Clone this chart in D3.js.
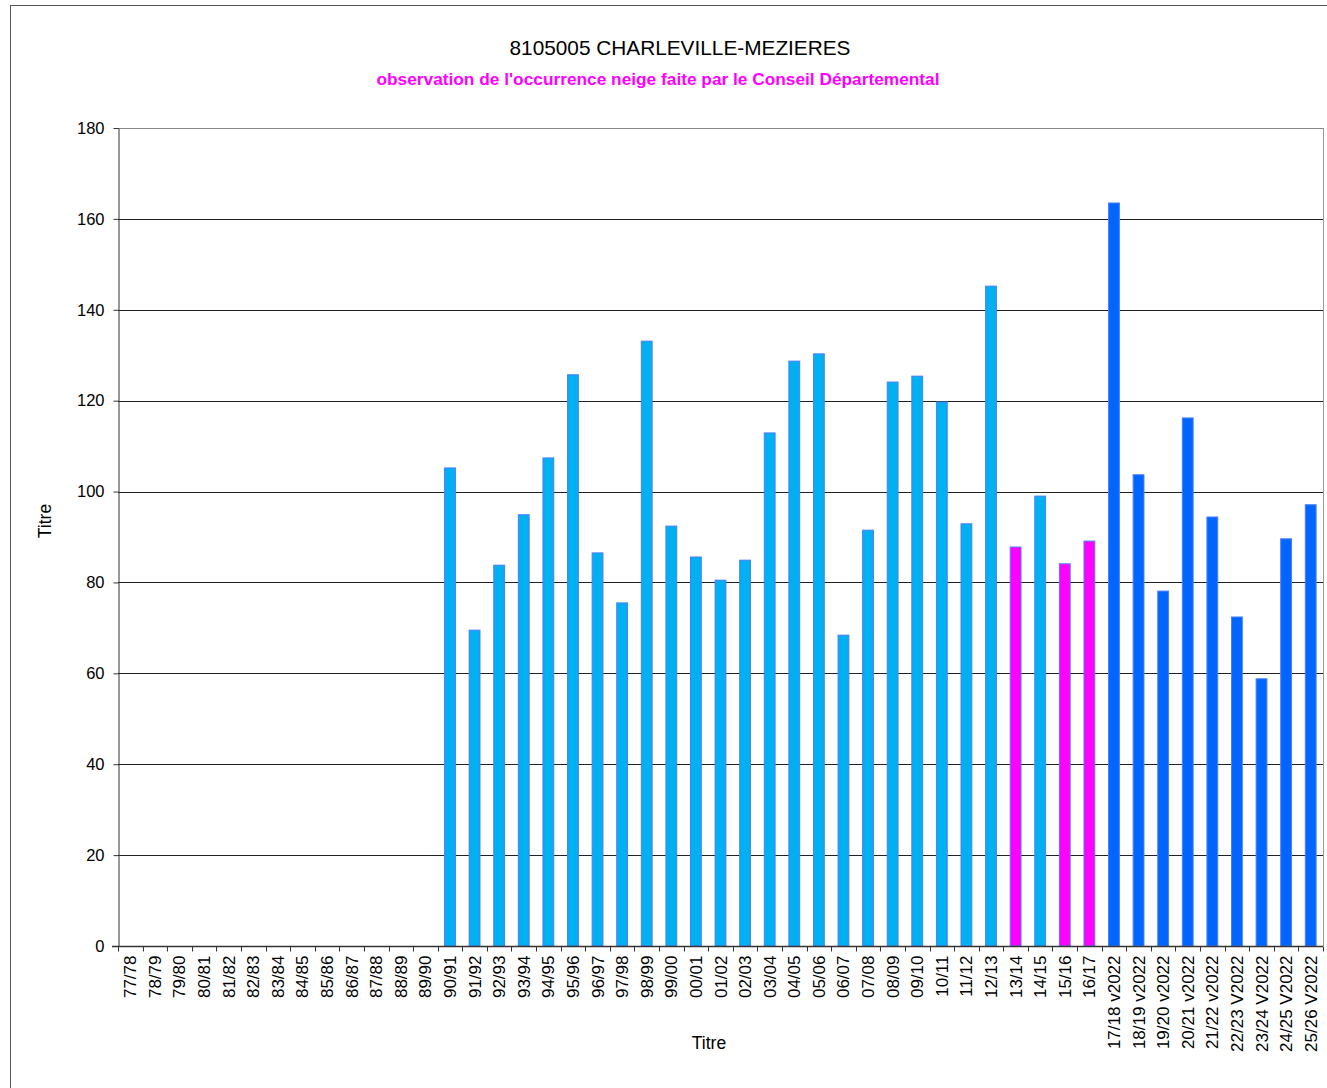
<!DOCTYPE html>
<html>
<head>
<meta charset="utf-8">
<script src="https://cdn.jsdelivr.net/npm/d3@7"></script>
<style>
  body { margin: 0; background: #fff; }
  svg { display: block; font-family: Arial, "Liberation Sans", sans-serif; }
</style>
</head>
<body>
<svg id="chart" width="1327" height="1088"></svg>
<script>
// Snow occurrence per winter season, Charleville-Mézières.

const seasons = [
  '77/78', '78/79', '79/80', '80/81', '81/82', '82/83', '83/84', '84/85', '85/86', '86/87',
  '87/88', '88/89', '89/90', '90/91', '91/92', '92/93', '93/94', '94/95', '95/96', '96/97',
  '97/98', '98/99', '99/00', '00/01', '01/02', '02/03', '03/04', '04/05', '05/06', '06/07',
  '07/08', '08/09', '09/10', '10/11', '11/12', '12/13', '13/14', '14/15', '15/16', '16/17',
  '17/18 v2022', '18/19 v2022', '19/20 v2022', '20/21 v2022', '21/22 v2022', '22/23 V2022',
  '23/24 V2022', '24/25 V2022', '25/26 V2022'
];

const values = [
  null, null, null, null, null, null, null, null, null, null,
  null, null, null, 105.2, 69.5, 83.8, 94.9, 107.4, 125.7, 86.5,
  75.5, 133.1, 92.4, 85.6, 80.5, 84.9, 112.9, 128.7, 130.3, 68.4,
  91.5, 124.1, 125.4, 119.7, 92.9, 145.2, 87.8, 99.0, 84.1, 89.1,
  163.5, 103.7, 78.1, 116.2, 94.4, 72.4, 58.8, 89.6, 97.1
];

// source of each value: 'obs' station, 'cd' Conseil Départemental, 'v2022' new series
const sources = [
  'obs', 'obs', 'obs', 'obs', 'obs', 'obs', 'obs', 'obs', 'obs', 'obs',
  'obs', 'obs', 'obs', 'obs', 'obs', 'obs', 'obs', 'obs', 'obs', 'obs',
  'obs', 'obs', 'obs', 'obs', 'obs', 'obs', 'obs', 'obs', 'obs', 'obs',
  'obs', 'obs', 'obs', 'obs', 'obs', 'obs', 'cd', 'obs', 'cd', 'cd',
  'v2022', 'v2022', 'v2022', 'v2022', 'v2022', 'v2022', 'v2022', 'v2022', 'v2022'
];

const yTicks = [0, 20, 40, 60, 80, 100, 120, 140, 160, 180];

const fillFor = { obs: '#00b0f0', cd: '#ff00ff', v2022: '#0066ff' };

const svg = d3.select('#chart');
const W = 1327, H = 1088;
const m = { left: 118, right: 4, top: 128, bottom: 142 };

// outer frame
svg.append('rect')
  .attr('x', 10.5).attr('y', 5.5)
  .attr('width', W + 20).attr('height', H + 20)
  .attr('fill', 'none').attr('stroke', '#555').attr('stroke-width', 1);

const x = d3.scaleBand()
  .domain(seasons)
  .range([m.left, W - m.right])
  .paddingInner(0.56).paddingOuter(0.28);

const y = d3.scaleLinear()
  .domain([0, 180])
  .range([H - m.bottom, m.top]);

// grid
svg.append('g')
  .selectAll('line').data(yTicks.slice(1)).join('line')
  .attr('x1', m.left).attr('x2', W - m.right)
  .attr('y1', (d) => Math.round(y(d)) + 0.5).attr('y2', (d) => Math.round(y(d)) + 0.5)
  .attr('stroke', (d) => d === 180 ? '#888' : '#222').attr('stroke-width', 1);

// right edge of plot
svg.append('line')
  .attr('x1', W - m.right + 0.5).attr('x2', W - m.right + 0.5)
  .attr('y1', m.top).attr('y2', H - m.bottom)
  .attr('stroke', '#999');

// bars
const data = seasons.map((s, i) => ({ s, v: values[i], src: sources[i] })).filter((d) => d.v != null);
svg.append('g')
  .selectAll('rect').data(data).join('rect')
  .attr('x', (d) => x(d.s))
  .attr('y', (d) => y(d.v))
  .attr('width', x.bandwidth())
  .attr('height', (d) => y(0) - y(d.v))
  .attr('fill', (d) => fillFor[d.src])
  .attr('stroke', '#4d7dff').attr('stroke-width', 1);

// y axis
const yAxis = svg.append('g')
  .attr('transform', `translate(${m.left + 0.5},0)`)
  .call(d3.axisLeft(y).tickValues(yTicks).tickSize(5).tickPadding(9).tickSizeOuter(0));
yAxis.select('.domain').attr('stroke', '#333');
yAxis.selectAll('.tick line').attr('stroke', '#333');
yAxis.selectAll('.tick text').attr('font-size', 16.5).attr('fill', '#000')
  .attr('font-family', 'Arial, "Liberation Sans", sans-serif');

// x axis: ticks on category boundaries
const step = x.step();
const x0 = m.left;
const xAxis = svg.append('g').attr('transform', `translate(0,${Math.round(y(0)) + 0.5})`);
xAxis.append('line')
  .attr('x1', x0 - 6).attr('x2', W - m.right)
  .attr('stroke', '#333').attr('stroke-width', 1.5);
xAxis.selectAll('line.tk').data(d3.range(seasons.length + 1)).join('line')
  .attr('class', 'tk')
  .attr('x1', (i) => Math.round(x0 + i * step) + 0.5).attr('x2', (i) => Math.round(x0 + i * step) + 0.5)
  .attr('y1', 0).attr('y2', 5)
  .attr('stroke', '#333');
xAxis.selectAll('text').data(seasons).join('text')
  .attr('transform', (d) => `translate(${x(d) + x.bandwidth() / 2 + 6},9) rotate(-90)`)
  .attr('text-anchor', 'end')
  .attr('font-size', 17)
  .attr('fill', '#000')
  .text((d) => d);

// titles
svg.append('text')
  .attr('x', 680).attr('y', 55)
  .attr('text-anchor', 'middle')
  .attr('font-size', 20.8)
  .text('8105005 CHARLEVILLE-MEZIERES');

svg.append('text')
  .attr('x', 658).attr('y', 85)
  .attr('text-anchor', 'middle')
  .attr('font-size', 17.3).attr('font-weight', 'bold')
  .attr('fill', '#ff00ff')
  .text("observation de l'occurrence neige faite par le Conseil Départemental");

svg.append('text')
  .attr('transform', 'translate(51,521) rotate(-90)')
  .attr('text-anchor', 'middle')
  .attr('font-size', 17.5)
  .text('Titre');

svg.append('text')
  .attr('x', 709).attr('y', 1049)
  .attr('text-anchor', 'middle')
  .attr('font-size', 17.5)
  .text('Titre');
</script>
</body>
</html>
